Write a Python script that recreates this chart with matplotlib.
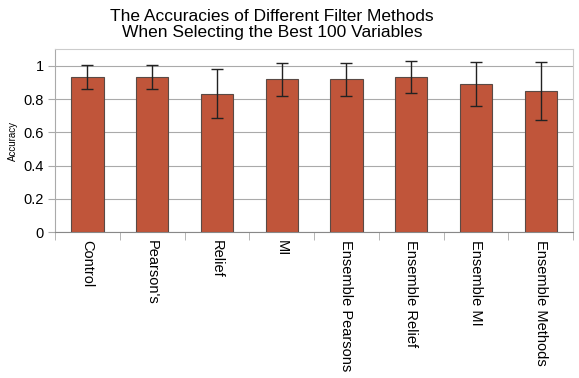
import numpy as np
import matplotlib
matplotlib.use('Agg')
import matplotlib.pyplot as plt

plt.rcParams['font.family'] = ['Liberation Sans', 'DejaVu Sans']

# data
methods = ['Control', "Pearson's", 'Relief', 'MI', 'Ensemble Pearsons',
           'Ensemble Relief', 'Ensemble MI', 'Ensemble Methods']
accuracy = [0.932, 0.932, 0.833, 0.918, 0.918, 0.932, 0.89, 0.847]
err = [0.072, 0.072, 0.149, 0.097, 0.097, 0.098, 0.13, 0.173]

fig = plt.figure(figsize=(5.79, 3.78), dpi=100)
ax = fig.add_axes([0.095, 0.386, 0.895, 0.484])

x = np.arange(len(methods))
ax.bar(x, accuracy, width=0.5, color='#c0553a', edgecolor='#5a4a45', linewidth=0.8,
       yerr=err, error_kw=dict(ecolor='#222222', elinewidth=1, capsize=4, capthick=1),
       zorder=3)

ax.set_xlim(-0.5, len(methods) - 0.5)
ax.set_ylim(0, 1.1)
ax.set_yticks([0, 0.2, 0.4, 0.6, 0.8, 1])
ax.set_yticklabels(['0', '0.2', '0.4', '0.6', '0.8', '1'], fontsize=10.5)
ax.yaxis.grid(True, color='#aaaaaa', linewidth=0.8, zorder=0)

# category labels, tick marks between the bars
ax.set_xticks(x)
ax.set_xticklabels(methods, rotation=270, fontsize=10.5, va='top', ha='center')
ax.tick_params(axis='x', length=0, pad=6)
ax.set_xticks(np.arange(len(methods) + 1) - 0.5, minor=True)
ax.tick_params(axis='x', which='minor', length=6, color='#aaaaaa')
ax.tick_params(axis='y', length=5, color='#aaaaaa', pad=3)

for side in ['top', 'right']:
    ax.spines[side].set_color('#cccccc')
ax.spines['left'].set_color('#aaaaaa')
ax.spines['bottom'].set_color('#888888')

ax.set_ylabel('Accuracy', fontsize=7, labelpad=4)
fig.text(0.47, 0.975, 'The Accuracies of Different Filter Methods\nWhen Selecting the Best 100 Variables',
         fontsize=12.5, ha='center', va='top', linespacing=1.05)

plt.savefig('out.png', dpi=100)
